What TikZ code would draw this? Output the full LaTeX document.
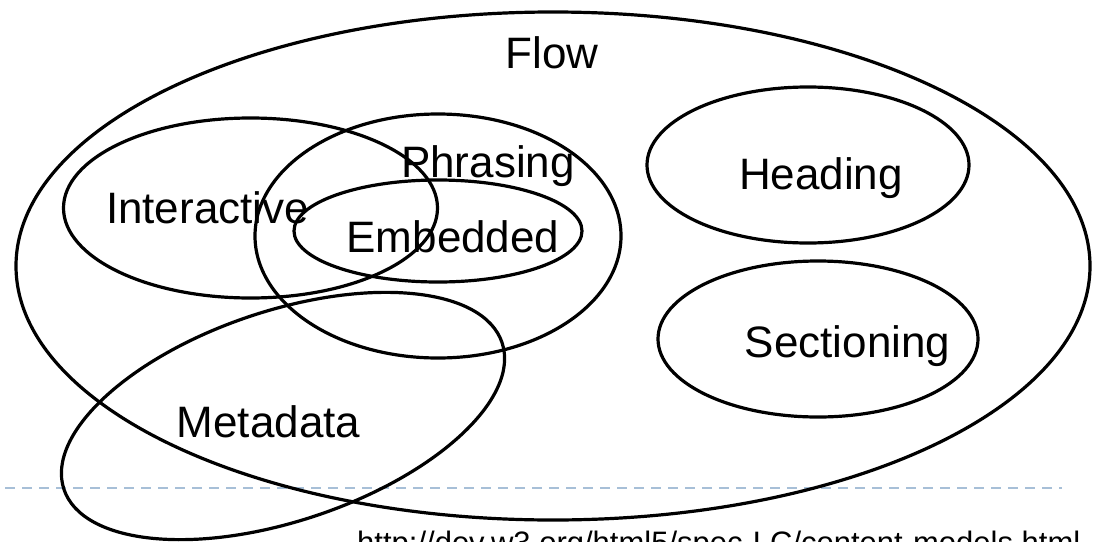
\documentclass[tikz,border=0pt]{standalone}
\usepackage{fontspec}
\setmainfont{Liberation Sans}
\begin{document}
\begin{tikzpicture}[x=1pt,y=-1pt,
  set/.style={draw=black,line width=3.2pt},
  lbl/.style={anchor=base,inner sep=0pt,font=\fontsize{44}{50}\selectfont},
  rule/.style={draw={rgb,255:red,167;green,191;blue,215},line width=2pt,dash pattern=on 10pt off 7pt}]
  \useasboundingbox (0,0) rectangle (1100,541);
  \clip (0,0) rectangle (1100,541);

  % separator line
  \draw[rule] (5,488) -- (1062,488);

  % category sets
  \draw[set] (553,266) ellipse [x radius=537, y radius=254];   % flow
  \draw[set] (250.5,208) ellipse [x radius=187, y radius=90];  % interactive
  \draw[set] (438,236) ellipse [x radius=183, y radius=122];   % phrasing
  \draw[set] (438,231) ellipse [x radius=144, y radius=51];    % embedded
  \draw[set] (808,165) ellipse [x radius=161, y radius=78];    % heading
  \draw[set] (818,339) ellipse [x radius=160, y radius=78];    % sectioning
  \draw[set, rotate around={18.5:(283,416)}] (283,416) ellipse [x radius=231, y radius=105]; % metadata

  % labels
  \node[lbl] (flow) at (552,68) {Flow};
  \node[lbl] (interactive) at (207.5,223) {Interactive};
  \node[lbl] (phrasing) at (488,177) {Phrasing};
  \node[lbl] (embedded) at (453,252) {Embedded};
  \node[lbl] (heading) at (821,189) {Heading};
  \node[lbl] (sectioning) at (847.5,357) {Sectioning};
  \node[lbl] (metadata) at (268.5,437) {Metadata};

  \node[anchor=base west,inner sep=0pt,font=\fontsize{31}{36}\selectfont] (url) at (357,553)
    {http://dev.w3.org/html5/spec-LC/content-models.html};
\end{tikzpicture}
\end{document}
